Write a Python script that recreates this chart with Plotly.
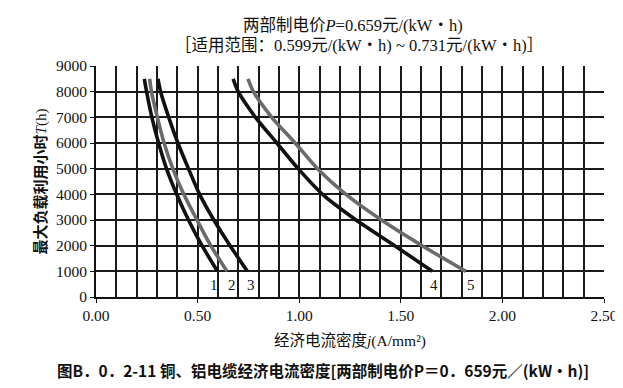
import plotly.graph_objects as go

# Max load utilisation hours T (h)
T = [1000, 2000, 3000, 4000, 5000, 6000, 7000, 8000, 8500]
# Economic current density j (A/mm2) for each curve
c1 = [0.598, 0.522, 0.455, 0.397, 0.347, 0.308, 0.275, 0.249, 0.238]
c2 = [0.645, 0.565, 0.497, 0.432, 0.378, 0.335, 0.302, 0.273, 0.264]
c3 = [0.745, 0.660, 0.580, 0.510, 0.455, 0.403, 0.358, 0.318, 0.305]
c4 = [1.655, 1.470, 1.280, 1.115, 0.995, 0.890, 0.785, 0.700, 0.675]
c5 = [1.820, 1.605, 1.405, 1.230, 1.090, 0.980, 0.865, 0.775, 0.748]
curve_names = ["1", "2", "3", "4", "5"]
curve_colors = ["#111111", "#6b6b6b", "#111111", "#111111", "#6b6b6b"]

x_ticks = [0.0, 0.5, 1.0, 1.5, 2.0, 2.5]
x_tick_text = ["0.00", "0.50", "1.00", "1.50", "2.00", "2.50"]
y_ticks = [0, 1000, 2000, 3000, 4000, 5000, 6000, 7000, 8000, 9000]

serif = "Liberation Serif, Noto Sans CJK SC, serif"
cjk = "Noto Sans CJK SC, sans-serif"

fig = go.Figure()
label_shift = [-4, 5, 4, 2, 5]
for name, xs, col, sh in zip(curve_names, [c1, c2, c3, c4, c5], curve_colors, label_shift):
    fig.add_trace(go.Scatter(x=xs, y=T, mode="lines", name=name,
                             line=dict(color=col, width=3.6, shape="spline", smoothing=0.8),
                             showlegend=False, hoverinfo="skip"))
    fig.add_annotation(x=xs[0], y=T[0], text=name, showarrow=False,
                       xshift=sh, yshift=-14, font=dict(family=serif, size=15, color="#111"))

fig.update_layout(
    width=623, height=388,
    margin=dict(l=88, r=27, t=58, b=99),
    paper_bgcolor="white", plot_bgcolor="white",
    xaxis=dict(
        range=[0, 2.5], tickvals=x_ticks, ticktext=x_tick_text,
        showgrid=True, gridcolor="#1a1a1a", gridwidth=1.5,
        minor=dict(dtick=0.1, showgrid=True, gridcolor="#1a1a1a", gridwidth=1.5),
        showline=True, linecolor="#111", linewidth=1.6,
        ticks="outside", ticklen=4, tickcolor="#111",
        tickfont=dict(family=serif, size=15.5, color="#111"),
        title=dict(text="经济电流密度<i>j</i>(A/mm²)", font=dict(family=serif, size=15.5, color="#111"), standoff=12),
        zeroline=False,
    ),
    yaxis=dict(
        range=[0, 9000], tickvals=y_ticks,
        showgrid=True, gridcolor="#1a1a1a", gridwidth=1.5,
        showline=True, linecolor="#111", linewidth=1.6,
        ticks="outside", ticklen=4, tickcolor="#111",
        tickfont=dict(family=serif, size=15.5, color="#111"),
        title=dict(text="<b>最大负载利用小时</b><i>T</i>(h)", font=dict(family=serif, size=15, color="#111"), standoff=6),
        zeroline=False,
    ),
)

fig.add_annotation(
    xref="paper", yref="paper", x=0.506, y=1.177, xanchor="center", yanchor="middle",
    text="两部制电价<i>P</i>=0.659元/(kW・h)", showarrow=False,
    font=dict(family=serif, size=16.5, color="#111"),
)
fig.add_annotation(
    xref="paper", yref="paper", x=0.518, y=1.087, xanchor="center", yanchor="middle",
    text="［适用范围：0.599元/(kW・h) ~ 0.731元/(kW・h)］", showarrow=False,
    font=dict(family=serif, size=16.5, color="#111"),
)
fig.add_annotation(
    xref="paper", yref="paper", x=0.447, y=-0.316, xanchor="center", yanchor="middle",
    text="<b>图B．0．2-11 铜、铝电缆经济电流密度[两部制电价P＝0．659元／(kW•h)]</b>",
    showarrow=False, font=dict(family=cjk, size=15.5, color="#111"),
)

fig.write_html("out.html")
